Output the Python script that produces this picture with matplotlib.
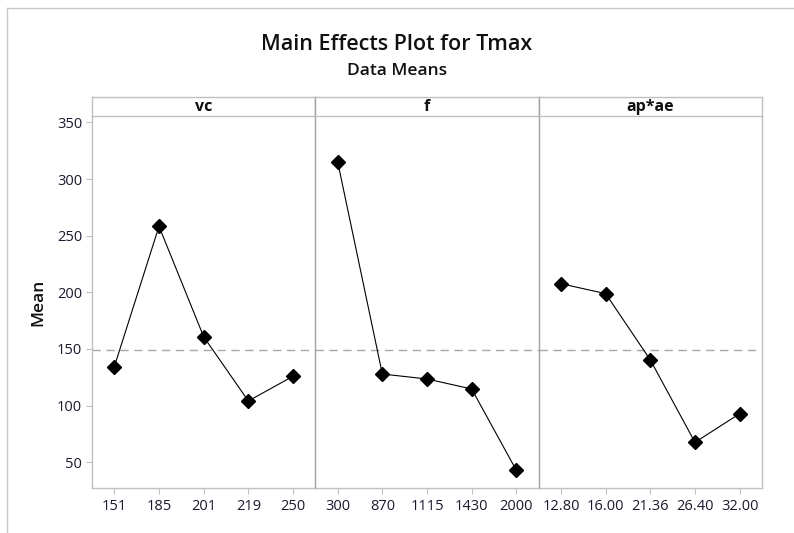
import matplotlib.pyplot as plt
from matplotlib.lines import Line2D
import numpy as np

plt.rcParams['font.family'] = ['Open Sans', 'DejaVu Sans']

# ---------------- datos ----------------
factores = ['vc', 'f', 'ap*ae']
niveles = [
    ['151', '185', '201', '219', '250'],
    ['300', '870', '1115', '1430', '2000'],
    ['12.80', '16.00', '21.36', '26.40', '32.00'],
]
medias = [
    [134.4, 258.2, 160.8, 104.1, 125.9],
    [315.2, 127.9, 123.5, 114.7, 42.9],
    [207.6, 198.8, 140.3, 67.6, 92.9],
]
media_global = 149.1
y_ticks = [50, 100, 150, 200, 250, 300, 350]

# ---------------- figura ----------------
W, H = 794, 533
fig = plt.figure(figsize=(W / 100, H / 100), dpi=100)

def px(x0, y0, x1, y1):
    # rect en pixeles (origen arriba a la izquierda) -> fracciones de figura
    return [x0 / W, 1 - y1 / H, (x1 - x0) / W, (y1 - y0) / H]

# marco exterior (solo borde superior e izquierdo visibles)
fig.add_artist(Line2D([6.5 / W, 6.5 / W], [0, 1 - 7.5 / H], transform=fig.transFigure,
                      color='#c8c8c8', lw=1.0))
fig.add_artist(Line2D([6.5 / W, 1], [1 - 7.5 / H, 1 - 7.5 / H], transform=fig.transFigure,
                      color='#c8c8c8', lw=1.0))

fig.text(0.5, 1 - 44 / H, 'Main Effects Plot for Tmax', ha='center', va='center',
         fontsize=15.5, fontweight='semibold', color='#111111')
fig.text(0.5, 1 - 71 / H, 'Data Means', ha='center', va='center',
         fontsize=12.5, fontweight='semibold', color='#111111')

x_izq, x_der = 92, 762
y_top, y_bot = 116, 488
y_strip = 97
ancho = (x_der - x_izq) / 3
gris_claro = '#c0c0c0'
gris_sep = '#a0a0a0'

for i, factor in enumerate(factores):
    x0 = x_izq + i * ancho
    x1 = x0 + ancho
    ax = fig.add_axes(px(x0, y_top, x1, y_bot))
    pos = np.arange(1, len(niveles[i]) + 1)
    ax.plot(pos, medias[i], color='black', lw=0.8, marker='D', markersize=7,
            markerfacecolor='black', markeredgecolor='black', zorder=3)
    ax.axhline(media_global, color='#a8a8a8', lw=1.0, ls=(0, (6, 4)), zorder=1)
    ax.set_xlim(0.5, len(niveles[i]) + 0.5)
    ax.set_ylim(27.3, 355.6)
    ax.set_xticks(pos)
    ax.set_xticklabels(niveles[i])
    ax.set_yticks(y_ticks)
    ax.tick_params(axis='x', length=4, width=0.8, color=gris_claro, labelsize=10.5,
                   labelcolor='#1a1a2e', pad=4)
    ax.tick_params(axis='y', length=4, width=0.8, color=gris_claro, labelsize=10.5,
                   labelcolor='#1a1a2e', pad=3)
    for lado in ['left', 'right', 'top', 'bottom']:
        ax.spines[lado].set_linewidth(1.0)
        ax.spines[lado].set_color(gris_claro)
    ax.spines['top'].set_visible(False)
    if i > 0:
        ax.spines['left'].set_color(gris_sep)
        ax.tick_params(axis='y', left=False, labelleft=False)
    else:
        ax.set_ylabel('Mean', fontsize=12.5, fontweight='semibold', color='#111111', labelpad=8)
    if i < len(factores) - 1:
        ax.spines['right'].set_visible(False)

    # franja con el nombre del factor
    st = fig.add_axes(px(x0, y_strip, x1, y_top))
    st.set_xticks([])
    st.set_yticks([])
    for lado in ['left', 'right', 'top', 'bottom']:
        st.spines[lado].set_color(gris_claro)
        st.spines[lado].set_linewidth(1.0)
    if i > 0:
        st.spines['left'].set_color(gris_sep)
    st.text(0.5, 0.45, factor, ha='center', va='center', fontsize=11.5,
            fontweight='bold', color='#111111', transform=st.transAxes)

fig.savefig('out.png', dpi=100)
